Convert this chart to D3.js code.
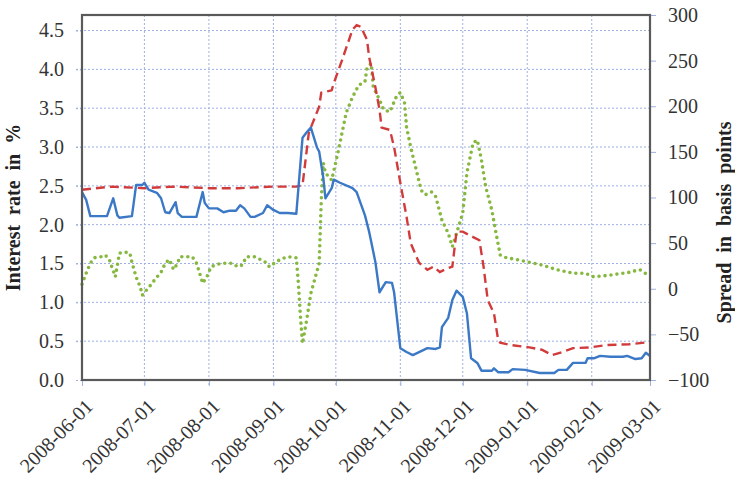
<!DOCTYPE html>
<html lang="en">
<head>
<meta charset="utf-8">
<title>Interest rate and spread</title>
<style type="text/css">
    body {
        margin: 0;
        background: #ffffff;
    }
    svg text {
        font-family: "Liberation Serif", "Times New Roman", Times, serif;
    }
    .tick text {
        font-size: 20px;
        fill: #333333;
    }
    .axisTitle {
        font-weight: bold;
        font-size: 20px;
        fill: #222222;
        word-spacing: 5px;
    }
    .grid line {
        stroke: #9fb1e2;
        stroke-dasharray: 2,2;
        stroke-width: 1;
    }
</style>
</head>
<body>
<script src="https://cdn.jsdelivr.net/npm/d3@7"></script>
<script>
    // blue solid line, interest rate (left axis, %)
    let rateDates = ["2008-06-01","2008-06-03","2008-06-05","2008-06-13","2008-06-16","2008-06-18","2008-06-19","2008-06-25",
        "2008-06-27","2008-06-30","2008-07-01","2008-07-03","2008-07-07","2008-07-09","2008-07-11","2008-07-13","2008-07-16",
        "2008-07-17","2008-07-19","2008-07-23","2008-07-26","2008-07-29","2008-07-30","2008-08-01","2008-08-05","2008-08-08",
        "2008-08-11","2008-08-14","2008-08-16","2008-08-18","2008-08-21","2008-08-23","2008-08-27","2008-08-29","2008-09-01",
        "2008-09-04","2008-09-08","2008-09-12","2008-09-15","2008-09-17","2008-09-19","2008-09-22","2008-09-23","2008-09-25",
        "2008-09-26","2008-09-29","2008-09-30","2008-10-03","2008-10-09","2008-10-11","2008-10-15","2008-10-17","2008-10-18",
        "2008-10-20","2008-10-22","2008-10-25","2008-10-28","2008-10-29","2008-11-01","2008-11-04","2008-11-07","2008-11-14",
        "2008-11-18","2008-11-20","2008-11-21","2008-11-24","2008-11-26","2008-11-28","2008-12-01","2008-12-03","2008-12-05",
        "2008-12-08","2008-12-10","2008-12-15","2008-12-16","2008-12-18","2008-12-23","2008-12-25","2008-12-31","2009-01-07",
        "2009-01-14","2009-01-16","2009-01-20","2009-01-23","2009-01-29","2009-01-30","2009-02-02","2009-02-05","2009-02-10",
        "2009-02-16","2009-02-18","2009-02-22","2009-02-25","2009-02-27","2009-03-01"];
    let rateValues = [2.42,2.32,2.11,2.11,2.34,2.12,2.09,2.11,
        2.51,2.51,2.54,2.45,2.41,2.34,2.16,2.15,2.29,
        2.15,2.10,2.10,2.10,2.42,2.28,2.21,2.21,2.16,
        2.18,2.18,2.25,2.21,2.10,2.10,2.15,2.25,2.19,
        2.15,2.15,2.14,3.12,3.19,3.25,2.99,2.94,2.60,
        2.34,2.47,2.58,2.54,2.47,2.42,2.12,1.91,1.78,
        1.52,1.13,1.26,1.25,1.13,0.41,0.36,0.32,0.41,
        0.40,0.42,0.68,0.80,1.03,1.15,1.07,0.86,0.28,
        0.22,0.12,0.12,0.15,0.10,0.10,0.14,0.13,0.09,
        0.09,0.13,0.13,0.22,0.22,0.28,0.28,0.31,0.30,
        0.30,0.31,0.27,0.28,0.35,0.31];

    // red dashed line (left axis, %)
    let redDates = ["2008-06-01","2008-06-15","2008-07-01","2008-07-15","2008-08-01","2008-08-15","2008-09-01","2008-09-12",
        "2008-09-15","2008-09-18","2008-09-19","2008-09-23","2008-09-24","2008-09-29","2008-09-30","2008-10-04","2008-10-09",
        "2008-10-11","2008-10-13","2008-10-16","2008-10-17","2008-10-20","2008-10-22","2008-10-23","2008-10-27","2008-10-29",
        "2008-11-01","2008-11-04","2008-11-06","2008-11-10","2008-11-14","2008-11-17","2008-11-20","2008-11-23","2008-11-26",
        "2008-11-28","2008-12-01","2008-12-06","2008-12-09","2008-12-11","2008-12-13","2008-12-16","2008-12-18","2008-12-19",
        "2008-12-24","2009-01-02","2009-01-08","2009-01-13","2009-01-18","2009-01-23","2009-01-31","2009-02-08","2009-02-19",
        "2009-03-01"];
    let redValues = [2.45,2.49,2.47,2.49,2.47,2.47,2.49,2.49,
        2.51,3.18,3.25,3.52,3.70,3.73,3.82,4.12,4.51,
        4.57,4.55,4.38,4.16,3.77,3.48,3.25,3.22,3.00,
        2.54,2.10,1.76,1.51,1.42,1.46,1.39,1.43,1.46,
        1.91,1.91,1.84,1.80,1.46,1.03,0.86,0.52,0.48,
        0.45,0.42,0.39,0.32,0.36,0.41,0.42,0.45,0.46,
        0.49];

    // green dotted line, spread (right axis, basis points)
    let spreadDates = ["2008-06-01","2008-06-03","2008-06-05","2008-06-07","2008-06-10","2008-06-12","2008-06-14","2008-06-15",
        "2008-06-16","2008-06-17","2008-06-19","2008-06-22","2008-06-24","2008-06-25","2008-06-27","2008-06-29","2008-06-30",
        "2008-07-01","2008-07-04","2008-07-06","2008-07-09","2008-07-11","2008-07-13","2008-07-15","2008-07-17","2008-07-18",
        "2008-07-22","2008-07-24","2008-07-26","2008-07-27","2008-07-29","2008-07-31","2008-08-02","2008-08-05","2008-08-09",
        "2008-08-12","2008-08-15","2008-08-17","2008-08-19","2008-08-23","2008-08-25","2008-08-29","2008-08-30","2008-09-02",
        "2008-09-05","2008-09-08","2008-09-12","2008-09-13","2008-09-14","2008-09-15","2008-09-17","2008-09-19","2008-09-23",
        "2008-09-24","2008-09-25","2008-09-26","2008-09-29","2008-10-02","2008-10-04","2008-10-06","2008-10-09","2008-10-12",
        "2008-10-15","2008-10-16","2008-10-18","2008-10-19","2008-10-22","2008-10-24","2008-10-27","2008-10-30","2008-11-01",
        "2008-11-03","2008-11-04","2008-11-06","2008-11-09","2008-11-11","2008-11-13","2008-11-16","2008-11-18","2008-11-21",
        "2008-11-24","2008-11-26","2008-11-29","2008-12-01","2008-12-03","2008-12-06","2008-12-08","2008-12-10","2008-12-12",
        "2008-12-15","2008-12-17","2008-12-19","2008-12-22","2008-12-27","2009-01-02","2009-01-08","2009-01-15","2009-01-23",
        "2009-01-29","2009-02-02","2009-02-10","2009-02-19","2009-02-24","2009-02-28","2009-03-01"];
    let spreadValues = [5,17,28,34,35,37,33,26,
        20,13,39,40,39,29,13,2,-7,
        -4,4,10,18,28,32,21,28,35,
        35,35,28,21,6,13,24,27,28,
        28,24,26,35,35,33,28,24,29,
        33,35,34,6,-31,-60,-34,-5,28,
        97,138,127,119,149,171,193,210,223,
        227,242,247,221,207,196,194,210,215,
        204,177,155,127,108,103,106,101,75,
        61,46,68,83,127,160,163,141,112,
        86,61,37,34,32,29,26,21,17,
        17,13,15,18,21,15,13];

    let leftTicks = [0, 0.5, 1, 1.5, 2, 2.5, 3, 3.5, 4, 4.5];
    let rightTicks = [-100, -50, 0, 50, 100, 150, 200, 250, 300];
    let monthTicks = ["2008-06-01","2008-07-01","2008-08-01","2008-09-01","2008-10-01","2008-11-01",
        "2008-12-01","2009-01-01","2009-02-01","2009-03-01"];

    let margin = {top: 15, right: 85, bottom: 98, left: 82},
        width = 735 - margin.left - margin.right,
        height = 478 - margin.top - margin.bottom;

    let parse = d3.timeParse("%Y-%m-%d");

    let svg = d3.select("body").append("svg")
        .attr("width", 735)
        .attr("height", 478)
        .append("g")
        .attr("transform", "translate(" + margin.left + "," + margin.top + ")");

    let x = d3.scaleTime()
        .domain([parse("2008-06-01"), parse("2009-03-01")])
        .range([0, width]);
    let yLeft = d3.scaleLinear().domain([0, 4.7]).range([height, 0]);
    let yRight = d3.scaleLinear().domain([-100, 300]).range([height, 0]);

    // gridlines
    svg.append("g")
        .attr("class", "grid")
        .selectAll("line.h")
        .data(leftTicks.slice(1))
        .enter().append("line")
        .attr("x1", -6)
        .attr("x2", width)
        .attr("y1", function(d) { return yLeft(d); })
        .attr("y2", function(d) { return yLeft(d); });

    svg.append("g")
        .attr("class", "grid")
        .selectAll("line.v")
        .data(monthTicks.slice(1, -1))
        .enter().append("line")
        .attr("x1", function(d) { return x(parse(d)); })
        .attr("x2", function(d) { return x(parse(d)); })
        .attr("y1", 0)
        .attr("y2", height + 6);

    // axes
    let leftAxis = d3.axisLeft(yLeft)
        .tickValues(leftTicks)
        .tickFormat(d3.format(".1f"))
        .tickSize(6)
        .tickPadding(12);
    svg.append("g").call(leftAxis)
        .attr("font-family", null)
        .call(function(g) {
            g.select(".domain").remove();
            g.selectAll(".tick line").attr("stroke", "#9fb1e2").attr("stroke-dasharray", "2,2");
        });

    let rightAxis = d3.axisRight(yRight)
        .tickValues(rightTicks)
        .tickSize(6)
        .tickPadding(12);
    svg.append("g")
        .attr("transform", "translate(" + width + ",0)")
        .call(rightAxis)
        .attr("font-family", null)
        .call(function(g) {
            g.select(".domain").remove();
            g.selectAll(".tick line").attr("stroke", "#9fb1e2");
        });

    let bottomAxis = d3.axisBottom(x)
        .tickValues(monthTicks.map(parse))
        .tickFormat(d3.timeFormat("%Y-%m-%d"))
        .tickSize(6);
    svg.append("g")
        .attr("transform", "translate(0," + height + ")")
        .call(bottomAxis)
        .attr("font-family", null)
        .call(function(g) {
            g.select(".domain").remove();
            g.selectAll(".tick line").attr("stroke", "#9fb1e2");
            g.selectAll(".tick text")
                .style("text-anchor", "end")
                .attr("dx", "-0.57em")
                .attr("dy", "0.94em")
                .attr("transform", "rotate(-45)");
        });

    // series
    let lineLeft = d3.line()
        .x(function(d) { return x(d.date); })
        .y(function(d) { return yLeft(d.value); });
    let lineRight = d3.line()
        .x(function(d) { return x(d.date); })
        .y(function(d) { return yRight(d.value); });

    function pairs(dates, values) {
        return dates.map(function(d, i) { return {date: parse(d), value: values[i]}; });
    }

    svg.append("path")
        .datum(pairs(spreadDates, spreadValues))
        .attr("d", lineRight)
        .attr("fill", "none")
        .attr("stroke", "#86b840")
        .attr("stroke-width", 3.6)
        .attr("stroke-linecap", "round")
        .attr("stroke-dasharray", "0,6");

    svg.append("path")
        .datum(pairs(redDates, redValues))
        .attr("d", lineLeft)
        .attr("fill", "none")
        .attr("stroke", "#d23b3b")
        .attr("stroke-width", 2.4)
        .attr("stroke-dasharray", "9,5");

    svg.append("path")
        .datum(pairs(rateDates, rateValues))
        .attr("d", lineLeft)
        .attr("fill", "none")
        .attr("stroke", "#3b78c6")
        .attr("stroke-width", 2.4)
        .attr("stroke-linejoin", "round");

    // frame
    svg.append("rect")
        .attr("width", width)
        .attr("height", height)
        .attr("fill", "none")
        .attr("stroke", "#5a5a5a")
        .attr("stroke-width", 2.2);

    // axis titles
    svg.append("text")
        .attr("class", "axisTitle")
        .attr("transform", "translate(" + (-62) + "," + (height / 2 + 10) + ") rotate(-90)")
        .attr("text-anchor", "middle")
        .text("Interest rate in %");

    svg.append("text")
        .attr("class", "axisTitle")
        .attr("transform", "translate(" + (width + 81) + "," + (height / 2 + 25) + ") rotate(-90)")
        .attr("text-anchor", "middle")
        .text("Spread in basis points");
</script>
</body>
</html>
